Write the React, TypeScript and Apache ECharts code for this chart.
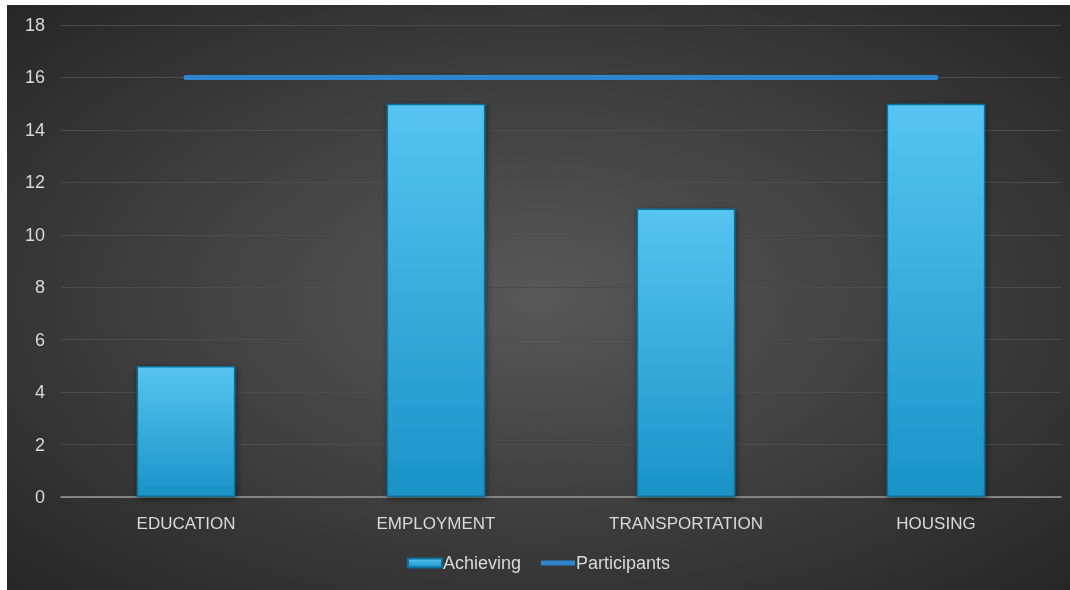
import React, { useEffect, useRef } from "react";
import * as echarts from "echarts";

const categories = ["EDUCATION", "EMPLOYMENT", "TRANSPORTATION", "HOUSING"];
const achieving = [5, 15, 11, 15];
const participants = [16, 16, 16, 16];

export default function App() {
  const ref = useRef<HTMLDivElement>(null);
  useEffect(() => {
    if (!ref.current) return;
    const chart = echarts.init(ref.current, null, { renderer: "svg" });
    const font = "'Liberation Sans', Arial, sans-serif";
    chart.setOption({
      animation: false,
      backgroundColor: {
        type: "radial",
        x: 0.5,
        y: 0.5,
        r: 0.75,
        colorStops: [
          { offset: 0, color: "#585858" },
          { offset: 1, color: "#232323" },
        ],
      },
      grid: { left: 54, right: 9, top: 20, bottom: 93 },
      legend: {
        bottom: 13,
        left: "center",
        itemGap: 20,
        itemWidth: 34,
        itemHeight: 9,
        textStyle: { color: "#d9d9d9", fontSize: 18, fontFamily: font, padding: [0, 0, 0, -4] },
        data: [
          { name: "Achieving", icon: "rect" },
          { name: "Participants", icon: "path://M0,0 L34,0 L34,5 L0,5 Z" },
        ],
      },
      xAxis: {
        type: "category",
        data: categories,
        axisLine: { lineStyle: { color: "#9a9a9a", width: 1.5 } },
        axisTick: { show: false },
        axisLabel: { color: "#d9d9d9", fontSize: 17, fontFamily: font, margin: 18 },
      },
      yAxis: {
        type: "value",
        min: 0,
        max: 18,
        interval: 2,
        axisLine: { show: false },
        axisTick: { show: false },
        axisLabel: { color: "#d9d9d9", fontSize: 18, fontFamily: font, margin: 16 },
        splitLine: { lineStyle: { color: "#4c4c4c", width: 1 } },
      },
      series: [
        {
          name: "Achieving",
          type: "bar",
          data: achieving,
          barWidth: "39.5%",
          itemStyle: {
            color: {
              type: "linear",
              x: 0,
              y: 0,
              x2: 0,
              y2: 1,
              colorStops: [
                { offset: 0, color: "#55c5f2" },
                { offset: 1, color: "#1b92c6" },
              ],
            },
            borderColor: "#0f6f98",
            borderWidth: 1.5,
            shadowColor: "rgba(0,0,0,0.5)",
            shadowBlur: 6,
            shadowOffsetX: 1,
            shadowOffsetY: 2,
          },
        },
        {
          name: "Participants",
          type: "line",
          data: participants,
          symbol: "none",
          lineStyle: {
            color: "#2b86cf",
            width: 5,
            cap: "round",
          },
          itemStyle: { color: "#2b86cf" },
        },
      ],
    });
    return () => chart.dispose();
  }, []);
  return (
    <div
      ref={ref}
      style={{ position: "fixed", left: 7, top: 5, width: 1063, height: 585 }}
    />
  );
}
